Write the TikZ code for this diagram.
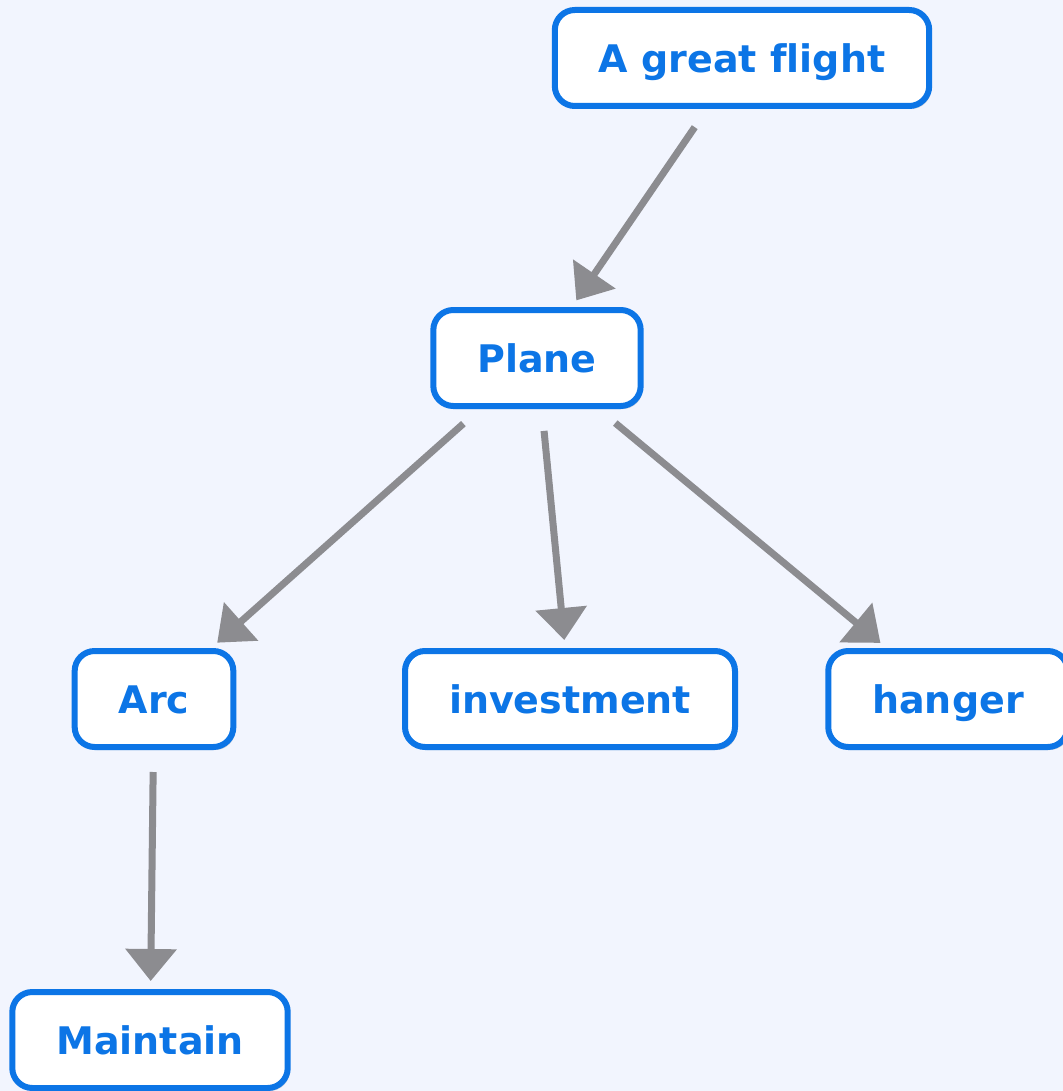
\documentclass[tikz,border=0pt]{standalone}
\usepackage{fontspec}
\setmainfont[Ligatures=CommonOff]{DejaVu Sans}
\usetikzlibrary{arrows.meta,shadows}
\definecolor{bgblue}{RGB}{242,245,254}
\definecolor{boxblue}{RGB}{12,117,230}
\definecolor{arrowgray}{RGB}{140,140,144}

\begin{document}
\begin{tikzpicture}[x=0.5pt,y=-0.5pt,
  concept/.style={draw=boxblue, line width=3pt, fill=white, rounded corners=10pt,
    text=boxblue, font=\fontsize{19}{22}\selectfont\bfseries,
    inner xsep=22pt, minimum height=48pt, text height=14.5pt, text depth=0pt,
    drop shadow={shadow xshift=1pt, shadow yshift=-1.5pt, opacity=0.3}},
  link/.style={draw=arrowgray, line width=3.5pt, -{Triangle[width=25pt,length=16pt]},
    shorten <=11pt, shorten >=4pt}]
\fill[bgblue] (0,0) rectangle (1063,1091);
\useasboundingbox (0,0) rectangle (1063,1091);

\node[concept] (flight) at (742,58) {A great flight};
\node[concept] (plane) at (537,358) {Plane};

\node[concept] (arc) at (154,699) {Arc};
\node[concept] (invest) at (570,699) {investment};
\node[concept] (hanger) at (948,699) {hanger};

\node[concept] (maintain) at (150,1040) {Maintain};

\draw[link] (flight) -- (plane);
\draw[link] (plane) -- (arc);
\draw[link] (plane) -- (invest);
\draw[link] (plane) -- (hanger);
\draw[link] (arc) -- (maintain);
\end{tikzpicture}
\end{document}
